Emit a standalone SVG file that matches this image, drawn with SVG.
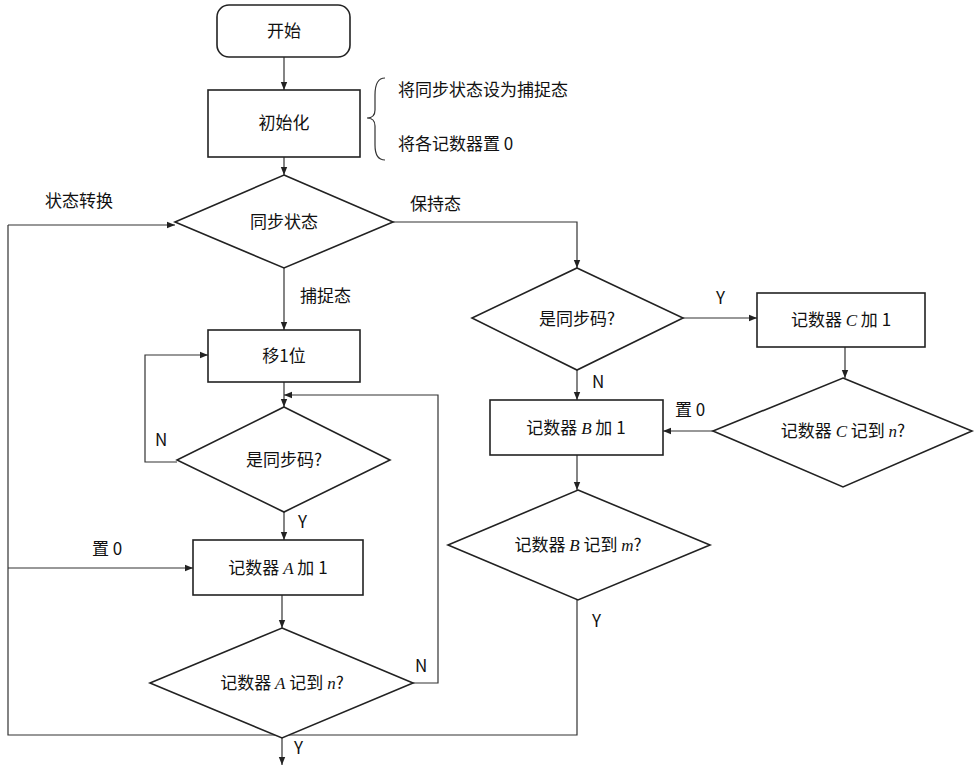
<svg xmlns="http://www.w3.org/2000/svg" width="976" height="770" viewBox="0 0 976 770">
<defs>
<marker id="ar" viewBox="0 0 10 10" refX="10" refY="5" markerWidth="8" markerHeight="8" orient="auto" markerUnits="userSpaceOnUse"><path d="M0,1 L10,5 L0,9 z" fill="#222"/></marker>
<style>
.s{fill:#fff;stroke:#222;stroke-width:1.6}
.l{fill:none;stroke:#333;stroke-width:1.2}
text{font-family:"Noto Sans CJK SC","Liberation Serif",serif;font-size:17px;fill:#111}
.c{text-anchor:middle}
.i{font-family:"Liberation Serif",serif;font-style:italic}
</style>
</defs>
<rect width="976" height="770" fill="#fff"/>
<g id="connectors">
<path class="l" d="M284,57 V90" marker-end="url(#ar)"/>
<path class="l" d="M284,157 V175" marker-end="url(#ar)"/>
<path class="l" d="M8,225 H175" marker-end="url(#ar)"/>
<path class="l" d="M393,222 H577 V268" marker-end="url(#ar)"/>
<path class="l" d="M284,268 V330" marker-end="url(#ar)"/>
<path class="l" d="M284,382 V407" marker-end="url(#ar)"/>
<path class="l" d="M177,462 H145 V355 H208" marker-end="url(#ar)"/>
<path class="l" d="M284,512 V540" marker-end="url(#ar)"/>
<path class="l" d="M8,225 V735 H577 V600"/>
<path class="l" d="M8,568 H193" marker-end="url(#ar)"/>
<path class="l" d="M282,595 V628" marker-end="url(#ar)"/>
<path class="l" d="M413,683 H438 V395 H284" marker-end="url(#ar)"/>
<path class="l" d="M282,738 V765" marker-end="url(#ar)"/>
<path class="l" d="M683,318 H757" marker-end="url(#ar)"/>
<path class="l" d="M577,370 V400" marker-end="url(#ar)"/>
<path class="l" d="M845,347 V378" marker-end="url(#ar)"/>
<path class="l" d="M713,431 H663" marker-end="url(#ar)"/>
<path class="l" d="M577,455 V490" marker-end="url(#ar)"/>
<path class="l" d="M385,78 Q375,78 375,95 V110 Q375,118 367,118 Q375,118 375,126 V145 Q375,160 385,160"/>
<text x="45" y="207">状态转换</text>
<text x="410" y="210">保持态</text>
<text x="300" y="302">捕捉态</text>
<text x="155" y="446">N</text>
<text x="298" y="528">Y</text>
<text x="92" y="555">置 0</text>
<text x="415" y="672">N</text>
<text x="294" y="754">Y</text>
<text x="716" y="304">Y</text>
<text x="592" y="388">N</text>
<text x="675" y="416">置 0</text>
<text x="592" y="627">Y</text>
<text x="398" y="96">将同步状态设为捕捉态</text>
<text x="398" y="150">将各记数器置 0</text>
</g>
<g id="start"><rect class="s" x="217" y="5" width="133" height="52" rx="12"/><text class="c" x="284" y="37">开始</text></g>
<g id="init"><rect class="s" x="208" y="90" width="152" height="67"/><text class="c" x="284" y="129">初始化</text></g>
<g id="sync"><polygon class="s" points="284,175 393,222 284,268 175,222"/><text class="c" x="284" y="228">同步状态</text></g>
<g id="shift"><rect class="s" x="208" y="330" width="152" height="52"/><text class="c" x="284" y="362">移1位</text></g>
<g id="isSync1"><polygon class="s" points="284,407 390,460 284,512 177,460"/><text class="c" x="284" y="466">是同步码?</text></g>
<g id="cntA"><rect class="s" x="193" y="540" width="170" height="55"/><text class="c" x="278" y="574">记数器 <tspan class="i">A</tspan> 加 1</text></g>
<g id="decA"><polygon class="s" points="282,628 413,683 282,738 150,683"/><text class="c" x="282" y="689">记数器 <tspan class="i">A</tspan> 记到 <tspan class="i">n</tspan>?</text></g>
<g id="isSync2"><polygon class="s" points="577,268 683,318 577,370 472,318"/><text class="c" x="577" y="325">是同步码?</text></g>
<g id="cntC"><rect class="s" x="757" y="293" width="168" height="54"/><text class="c" x="841" y="326">记数器 <tspan class="i">C</tspan> 加 1</text></g>
<g id="decC"><polygon class="s" points="843,378 972,431 843,487 713,431"/><text class="c" x="843" y="437">记数器 <tspan class="i">C</tspan> 记到 <tspan class="i">n</tspan>?</text></g>
<g id="cntB"><rect class="s" x="490" y="400" width="173" height="55"/><text class="c" x="576" y="434">记数器 <tspan class="i">B</tspan> 加 1</text></g>
<g id="decB"><polygon class="s" points="578,490 710,545 578,600 448,545"/><text class="c" x="578" y="551">记数器 <tspan class="i">B</tspan> 记到 <tspan class="i">m</tspan>?</text></g>
</svg>
